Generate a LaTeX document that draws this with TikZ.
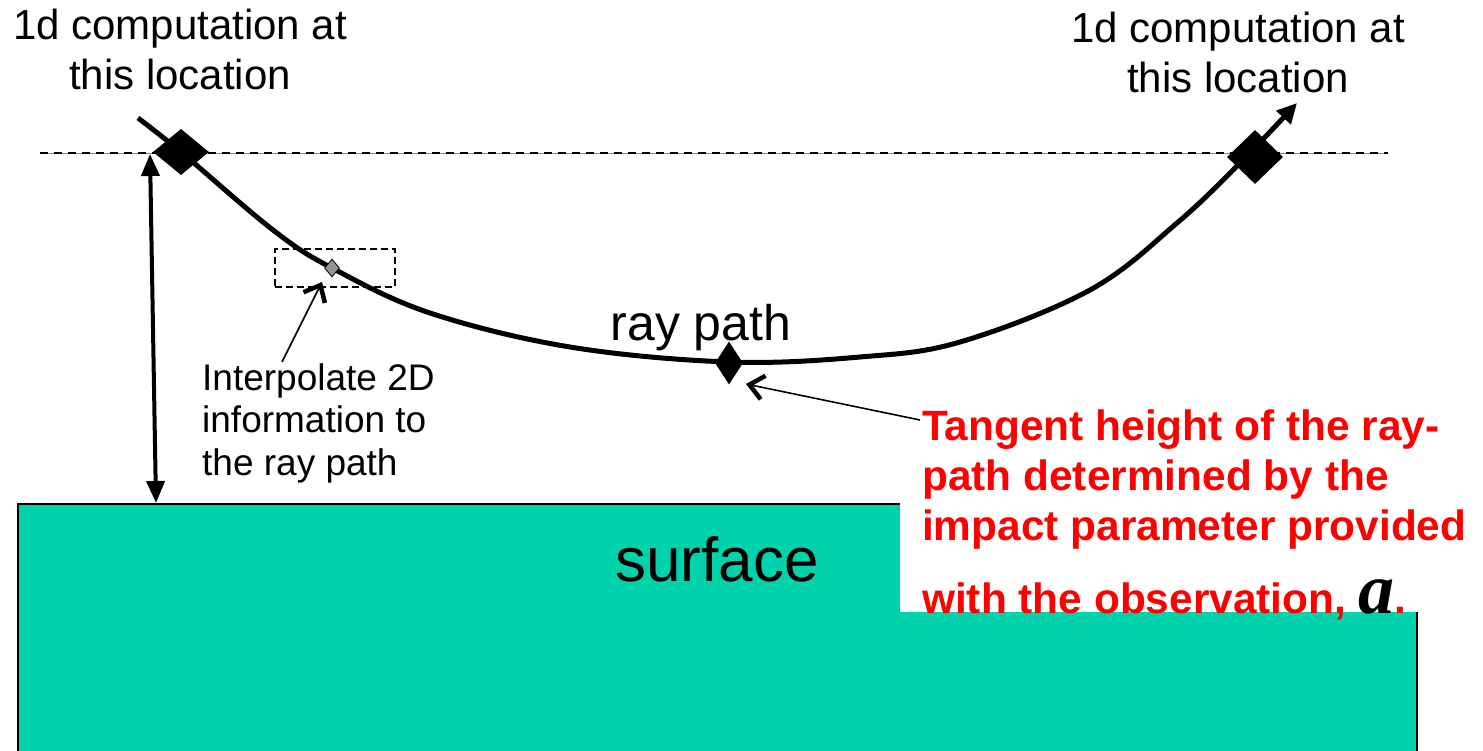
\documentclass[tikz,border=0pt]{standalone}
\usepackage{fontspec}
\setmainfont{Liberation Sans}
\newfontfamily\tnr{Liberation Serif}
\usetikzlibrary{arrows.meta,shapes.geometric}
\definecolor{surf}{HTML}{00D2AC}
\definecolor{rred}{HTML}{FF0000}
\tikzset{
  lbl/.style={inner sep=0pt, align=center, font=\fontsize{42}{50}\selectfont},
  blackdia/.style={diamond, fill=black, inner sep=0pt, draw=none},
  greydia/.style={diamond, fill=gray!85, draw=black, line width=0.8pt, inner sep=0pt, minimum width=15pt, minimum height=18pt},
  dashbox/.style={draw=black, line width=1.5pt, dash pattern=on 7pt off 4pt, inner sep=0pt, minimum width=120pt, minimum height=38pt},
  barb/.style={-{Straight Barb[length=14pt,width=24pt,line width=4.5pt]}, line width=1.6pt},
  ray/.style={line width=5pt, -{Triangle[length=20pt,width=19pt]}},
  height/.style={line width=4pt, {Triangle[length=22pt,width=18pt]}-{Triangle[length=22pt,width=18pt]}}
}
\begin{document}
\begin{tikzpicture}[x=1pt,y=-1pt]
\useasboundingbox (0,0) rectangle (1483,751);
% surface
\filldraw[fill=surf, draw=black, line width=2pt] (18,504) rectangle (1417,760);
\node[inner sep=0pt, anchor=base, font=\fontsize{62}{70}\selectfont] (surf) at (717,581) {surface};
% white text box
\fill[white] (900,495) rectangle (1483,612);
% horizon dashed line
\draw[surf, line width=0.8pt] (40,153) -- (1388,153);
\draw[black, line width=2.2pt, dash pattern=on 8pt off 6pt] (40,153) -- (1388,153);
% ray path
\draw[ray] plot[smooth, tension=0.6] coordinates {(138,118) (181,152) (273,230) (332,268) (430,313) (570,347) (729,362) (860,357) (960,342) (1090,290) (1177,223) (1240,163) (1297,103)};
\node[blackdia, minimum width=56pt, minimum height=46pt] (d1) at (181,152) {};
\node[blackdia, minimum width=56pt, minimum height=54pt] (d4) at (1255,157) {};
\node[blackdia, minimum width=28pt, minimum height=43pt] (d3) at (729,363) {};
\node[greydia] (d2) at (332,268) {};
\node[dashbox] (box) at (335,268) {};
% height arrow
\coordinate (ht) at (150,154);
\coordinate (hb) at (156,503);
\draw[height] (ht) -- (hb);
% labels
\node[lbl, anchor=north] (l1) at (180,9) {1d computation at\\this location};
\node[lbl, anchor=north] (l2) at (1238,12) {1d computation at\\this location};
\node[inner sep=0pt, anchor=base, font=\fontsize{50}{56}\selectfont] (rp) at (701,341) {ray path};
\node[inner sep=0pt, anchor=north west, align=left, font=\fontsize{37}{42.5}\selectfont] (interp) at (202,363) {Interpolate 2D\\information to\\the ray path};
\node[inner sep=0pt, anchor=north west, align=left, text=rred, font=\bfseries\fontsize{42.4}{50}\selectfont] (red) at (922,410) {Tangent height of the ray-\\path determined by the\\impact parameter provided\\[23pt]with the observation, {\tnr\bfseries\itshape\color{black}\fontsize{72}{72}\selectfont a}.};
% pointer arrows
\coordinate (is) at (282,362);
\coordinate (it) at (322,282);
\draw[barb] (is) -- (it);
\coordinate (rs) at (920,420);
\coordinate (rt) at (746,384);
\draw[barb] (rs) -- (rt);
\end{tikzpicture}
\end{document}
